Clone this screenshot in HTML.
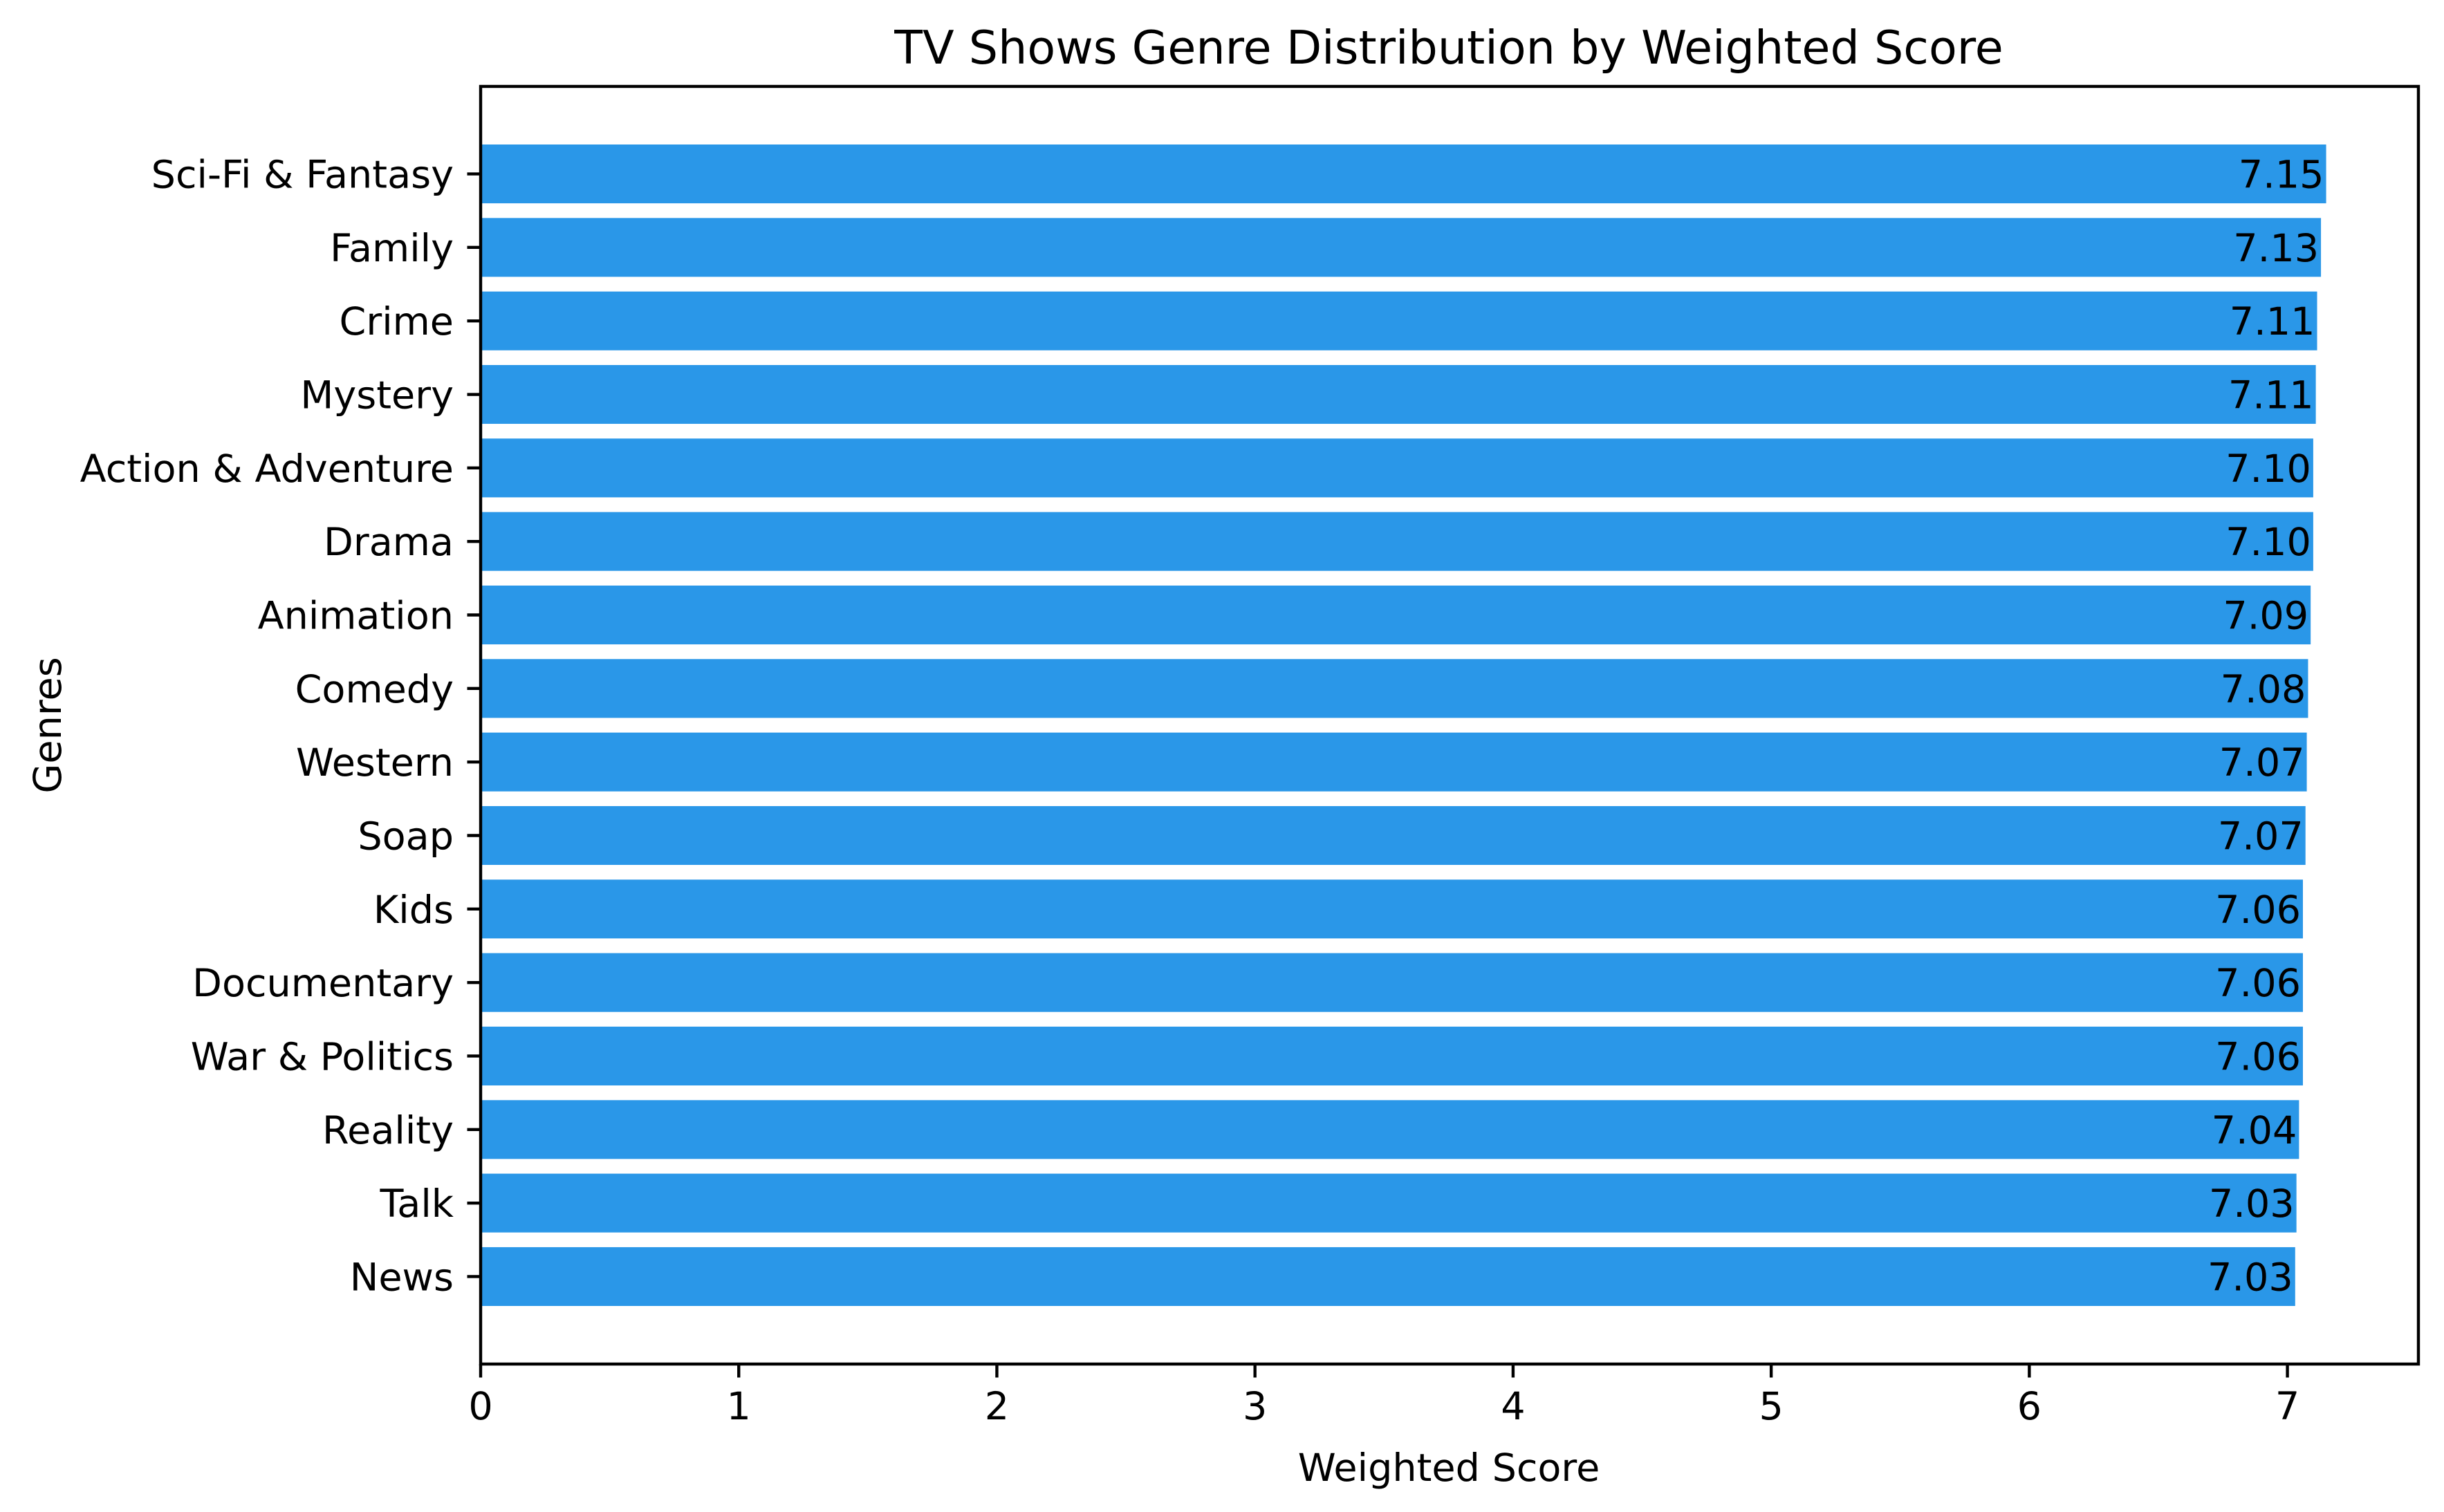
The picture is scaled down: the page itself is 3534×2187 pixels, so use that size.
<!DOCTYPE html>
<html><head><meta charset="utf-8"><style>
html,body{margin:0;padding:0;background:#fff;}
svg text{font-family:"DejaVu Sans","Liberation Sans",sans-serif;fill:#000;}
</style></head><body>
<svg id="chart" width="3534" height="2182" viewBox="0 0 3534 2182" xmlns="http://www.w3.org/2000/svg">
<rect width="3534" height="2182" fill="#fff"/>
<text x="2095" y="92" font-size="66.7" text-anchor="middle">TV Shows Genre Distribution by Weighted Score</text>
<text x="2095" y="2142" font-size="55.6" text-anchor="middle">Weighted Score</text>
<text transform="translate(88,1049) rotate(-90)" font-size="55.6" text-anchor="middle">Genres</text>
<g id="bars"></g>
<g id="ticks"></g>
<rect x="695" y="125" width="2802" height="1848" fill="none" stroke="#000" stroke-width="4.4"/>
</svg>
<script>
const genres = ["Sci-Fi & Fantasy","Family","Crime","Mystery","Action & Adventure","Drama","Animation","Comedy","Western","Soap","Kids","Documentary","War & Politics","Reality","Talk","News"];
const scores = [7.15,7.13,7.115,7.11,7.10,7.10,7.09,7.08,7.075,7.07,7.06,7.06,7.06,7.045,7.035,7.03];
const labels = ["7.15","7.13","7.11","7.11","7.10","7.10","7.09","7.08","7.07","7.07","7.06","7.06","7.06","7.04","7.03","7.03"];
const xTicks = [0,1,2,3,4,5,6,7];

const L=695, R=3497, T=125, B=1973;
const xMax = 7.5075;
const x = v => L + v/xMax*(R-L);
const n = genres.length;
const pad = 1.19;
const y = i => T + (i+pad)/(n-1+2*pad)*(B-T);
const unit = (B-T)/(n-1+2*pad);
const NS="http://www.w3.org/2000/svg";
const bars=document.getElementById('bars'), ticks=document.getElementById('ticks');
function mk(tag,attrs,parent){const e=document.createElementNS(NS,tag);for(const k in attrs)e.setAttribute(k,attrs[k]);parent.appendChild(e);return e;}
genres.forEach((g,i)=>{
  const cy=y(i), h=unit*0.8;
  const r=mk('rect',{x:L,y:cy-h/2,width:x(scores[i])-L,height:h,fill:'#2a97e8'},bars);
  
  
  const t=mk('text',{x:x(scores[i])-3,y:cy+20,'font-size':55.6,'text-anchor':'end'},bars);
  t.textContent=labels[i];
  
  
  const tk=mk('line',{x1:L-19.5,x2:L,y1:cy,y2:cy,stroke:'#000','stroke-width':4.4},ticks);
  
  
  const yl=mk('text',{x:L-39,y:cy+20,'font-size':55.6,'text-anchor':'end'},ticks);
  yl.textContent=g;
  
  
});
xTicks.forEach(v=>{
  const tk=mk('line',{x1:x(v),x2:x(v),y1:B,y2:B+19.5,stroke:'#000','stroke-width':4.4},ticks);
  
  
  const tl=mk('text',{x:x(v),y:B+80,'font-size':55.6,'text-anchor':'middle'},ticks);
  tl.textContent=String(v);
  
  
});
</script>
</body></html>
